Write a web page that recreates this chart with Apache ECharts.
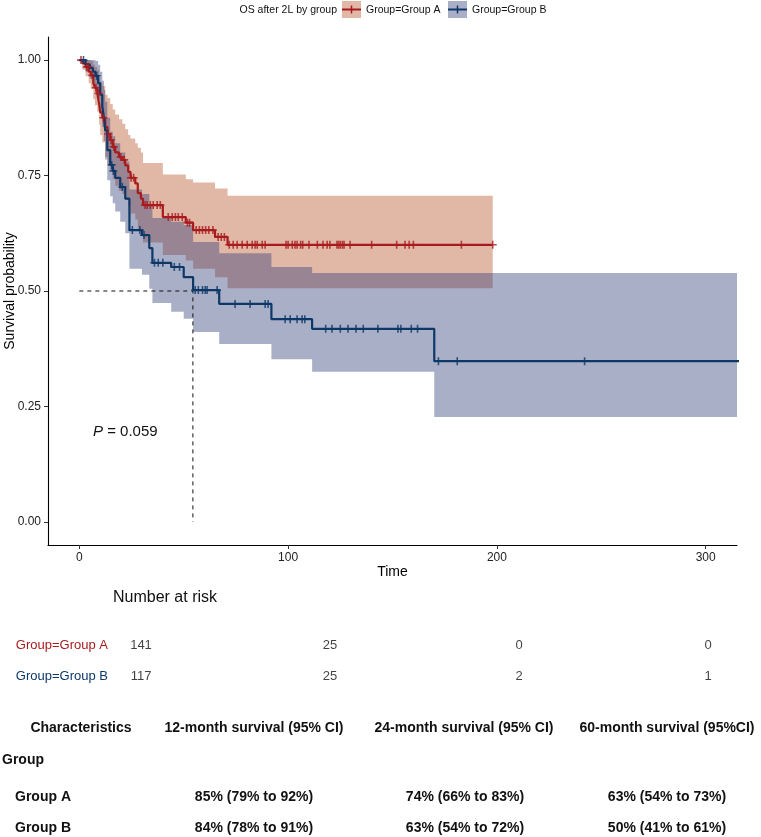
<!DOCTYPE html>
<html><head><meta charset="utf-8">
<script src="https://cdn.jsdelivr.net/npm/echarts@6/dist/echarts.min.js"></script>
<style>html,body{margin:0;padding:0;background:#fff}#c{width:761px;height:837px}</style>
</head><body><div id="c"></div>
<script>
// ---------- data ----------
const xTicks = [0, 100, 200, 300];
const yTicks = [0, 0.25, 0.5, 0.75, 1];
const groupNames = ['Group=Group A', 'Group=Group B'];

const aTime  = [0,1.5,3,4.5,5.5,6.7,7.5,8.6,9.5,10,11,12.4,13.5,14.8,16,17.2,19,20.6,22,23.4,24.5,26.8,28,29.5,30.5,40,51,54.5,65,71,198];
const aSurv  = [1,0.993,0.985,0.975,0.967,0.950,0.940,0.928,0.905,0.887,0.875,0.855,0.840,0.827,0.812,0.800,0.790,0.784,0.772,0.758,0.745,0.733,0.712,0.700,0.686,0.660,0.648,0.632,0.617,0.600,0.600];
const aUpper = [1,1,1,1,0.998,0.99,0.985,0.978,0.962,0.952,0.944,0.925,0.918,0.905,0.893,0.882,0.872,0.862,0.850,0.838,0.830,0.820,0.810,0.800,0.777,0.752,0.742,0.735,0.722,0.706,0.706];
const aLower = [1,0.979,0.965,0.95,0.938,0.915,0.902,0.888,0.86,0.838,0.822,0.79,0.774,0.76,0.742,0.728,0.717,0.71,0.697,0.683,0.668,0.655,0.633,0.62,0.605,0.578,0.566,0.548,0.53,0.506,0.506];
const aCensor = [0.8,3.5,4.3,6.2,7.9,9.2,11.5,13.8,15.2,16.5,19.8,21.5,24.8,26,31.5,32.5,34,35.4,37.3,38.8,42.6,44.5,46,47.4,49.3,51.8,52.8,56,57.5,59,60.5,62,64,66.5,68,69.5,71.8,73.7,75.6,78,80.4,82.8,84.2,85.2,87.6,89,99,100,102,103.3,104.3,106,107,110,114,116.7,118.7,120,123.4,124.2,125,126,126.8,129.7,140,152,156,158,160,183,198];

const bTime  = [0,3,5,6.5,7.7,9,10,11,11.8,12.4,13.4,14.8,16,17.2,19.6,22,24,30,33.5,35,44,50,54.5,67,92,111.5,170,330];
const bSurv  = [1,0.991,0.983,0.975,0.966,0.95,0.925,0.90,0.875,0.848,0.805,0.773,0.76,0.745,0.725,0.70,0.632,0.621,0.593,0.561,0.552,0.530,0.502,0.472,0.439,0.418,0.348,0.348];
const bUpper = [1,1,1,1,0.998,0.99,0.975,0.955,0.935,0.91,0.875,0.845,0.835,0.82,0.80,0.78,0.72,0.71,0.685,0.658,0.65,0.643,0.606,0.582,0.552,0.539,0.539,0.539];
const bLower = [1,0.975,0.96,0.948,0.935,0.915,0.885,0.855,0.825,0.785,0.74,0.705,0.69,0.672,0.65,0.625,0.548,0.535,0.505,0.474,0.455,0.44,0.411,0.385,0.352,0.325,0.227,0.227];
const bCensor = [2,8.3,15.5,16.3,20.6,25.4,29,31,36,37.8,40,45.5,48,55.5,57,59,60.3,61.2,66,74.6,81.8,89,90.4,98.6,101,104.3,106.7,108,118,121,125,128.7,132.5,136,143,152.6,154,159,162,172,181,242];

const medianTime = 54.4;
const medianSurv = 0.5;
const pValueText = '0.059';

const riskTimes = [0, 100, 200, 300];
const riskA = [141, 25, 0, 0];
const riskB = [117, 25, 2, 1];

const tableHeader = ['Characteristics', '12-month survival (95% CI)', '24-month survival (95% CI)', '60-month survival (95%CI)'];
const tableGroupLabel = 'Group';
const tableRowA = ['Group A', '85% (79% to 92%)', '74% (66% to 83%)', '63% (54% to 73%)'];
const tableRowB = ['Group B', '84% (78% to 91%)', '63% (54% to 72%)', '50% (41% to 61%)'];

// ---------- styles ----------
const FONT = '"Liberation Sans", Arial, Helvetica, sans-serif';
const RED = '#A71B1F', BLUE = '#0D3868';
const RED_BAND = 'rgba(180,75,30,0.4)', BLUE_BAND = 'rgba(42,55,117,0.4)';
const PLUS = 'path://M-1,-0.2L1,-0.2L1,0.2L-1,0.2Z M-0.2,-1L0.2,-1L0.2,1L-0.2,1Z';

function survAt(times, surv, t) {
  let v = surv[0];
  for (let i = 0; i < times.length; i++) { if (times[i] <= t) v = surv[i]; else break; }
  return v;
}
// confidence band drawn as one stepped polygon through the axis scales
function bandSeries(name, times, lower, upper, color) {
  return {
    type: 'custom', name: name, silent: true, z: 1, clip: true,
    data: times.map((t, i) => [t, lower[i], upper[i]]),
    encode: { x: 0, y: [1, 2] },
    renderItem: function (params, api) {
      if (params.dataIndexInside !== 0) return null;
      const n = params.dataInsideLength;
      const top = [], bot = [];
      for (let i = 0; i < n; i++) {
        const t = api.value(0, i), lo = api.value(1, i), up = api.value(2, i);
        const tNext = i < n - 1 ? api.value(0, i + 1) : t;
        top.push(api.coord([t, up]), api.coord([tNext, up]));
        bot.push(api.coord([t, lo]), api.coord([tNext, lo]));
      }
      const pts = top.concat(bot.reverse());
      return { type: 'polygon', shape: { points: pts }, style: { fill: color } };
    }
  };
}

const chart = echarts.init(document.getElementById('c'));
const option = {
  animation: false,
  textStyle: { fontFamily: FONT },
  grid: [
    { left: 48, right: 24, top: 37, bottom: 292, containLabel: false, outerBoundsMode: 'none' },
    { left: 141, right: 53, top: 630, height: 62, containLabel: false, outerBoundsMode: 'none' }
  ],
  xAxis: [
    { type: 'value', gridIndex: 0, min: -15, max: 315,
      axisLine: { show: true, onZero: false, lineStyle: { color: '#000', width: 1.1 } },
      axisTick: { show: true, length: 4, customValues: xTicks, lineStyle: { color: '#333' } },
      axisLabel: { customValues: xTicks, margin: 7, fontSize: 12, color: '#222', fontFamily: FONT },
      splitLine: { show: false },
      name: 'Time', nameLocation: 'middle', nameGap: 20, nameMoveOverlap: false,
      nameTextStyle: { fontSize: 14, color: '#000', fontFamily: FONT } },
    { type: 'value', gridIndex: 1, min: 0, max: 300, show: false }
  ],
  yAxis: [
    { type: 'value', gridIndex: 0, min: -0.05, max: 1.05,
      axisLine: { show: true, onZero: false, lineStyle: { color: '#000', width: 1.1 } },
      axisTick: { show: true, length: 4, customValues: yTicks, lineStyle: { color: '#333' } },
      axisLabel: { customValues: yTicks, margin: 7, fontSize: 12, color: '#222', fontFamily: FONT,
        formatter: v => v.toFixed(2) },
      splitLine: { show: false },
      name: 'Survival probability', nameLocation: 'middle', nameGap: 31, nameMoveOverlap: false,
      nameTextStyle: { fontSize: 14, color: '#000', fontFamily: FONT } },
    { type: 'category', gridIndex: 1, data: groupNames, inverse: true,
      axisLine: { show: false }, axisTick: { show: false }, splitLine: { show: false },
      axisLabel: { margin: 33, fontSize: 13, fontFamily: FONT,
        color: (v, i) => (v === groupNames[0] ? RED : BLUE) } }
  ],
  series: [
    bandSeries('bandA', aTime, aLower, aUpper, RED_BAND),
    bandSeries('bandB', bTime, bLower, bUpper, BLUE_BAND),
    { type: 'line', name: 'median', symbol: 'none', silent: true, z: 2,
      data: [[0, medianSurv], [medianTime, medianSurv], [medianTime, 0]],
      lineStyle: { color: '#111', width: 1, type: [4, 4] } },
    { type: 'line', name: groupNames[0], step: 'end', symbol: 'none', z: 3,
      data: aTime.map((t, i) => [t, aSurv[i]]), lineStyle: { color: RED, width: 2.2 } },
    { type: 'line', name: groupNames[1], step: 'end', symbol: 'none', z: 3,
      data: bTime.map((t, i) => [t, bSurv[i]]), lineStyle: { color: BLUE, width: 2.2 } },
    { type: 'scatter', name: 'censorA', symbol: PLUS, symbolSize: 8, z: 4, silent: true,
      data: aCensor.map(t => [t, survAt(aTime, aSurv, t)]), itemStyle: { color: RED } },
    { type: 'scatter', name: 'censorB', symbol: PLUS, symbolSize: 8, z: 4, silent: true,
      data: bCensor.map(t => [t, survAt(bTime, bSurv, t)]), itemStyle: { color: BLUE } },
    { type: 'scatter', name: 'risk', xAxisIndex: 1, yAxisIndex: 1, symbolSize: 1, silent: true,
      itemStyle: { color: 'rgba(0,0,0,0)' },
      data: riskTimes.map((t, j) => [t, 0, riskA[j]]).concat(riskTimes.map((t, j) => [t, 1, riskB[j]])),
      label: { show: true, position: 'inside', formatter: p => String(p.value[2]),
        fontSize: 13, color: '#111', fontFamily: FONT } }
  ],
  graphic: [
    // legend
    { type: 'text', x: 337, y: 10, style: { text: 'OS after 2L by group', fontSize: 10.5, fontFamily: FONT,
        fill: '#111', align: 'right', verticalAlign: 'middle' } },
    { type: 'rect', x: 342, y: 1, shape: { width: 19, height: 17 }, style: { fill: RED_BAND } },
    { type: 'line', shape: { x1: 342, y1: 9.5, x2: 361, y2: 9.5 }, style: { stroke: RED, lineWidth: 2 } },
    { type: 'line', shape: { x1: 351.5, y1: 5.5, x2: 351.5, y2: 13.5 }, style: { stroke: RED, lineWidth: 1.5 } },
    { type: 'text', x: 366, y: 10, style: { text: groupNames[0], fontSize: 10.5, fontFamily: FONT,
        fill: '#111', verticalAlign: 'middle' } },
    { type: 'rect', x: 448, y: 1, shape: { width: 19, height: 17 }, style: { fill: BLUE_BAND } },
    { type: 'line', shape: { x1: 448, y1: 9.5, x2: 467, y2: 9.5 }, style: { stroke: BLUE, lineWidth: 2 } },
    { type: 'line', shape: { x1: 457.5, y1: 5.5, x2: 457.5, y2: 13.5 }, style: { stroke: BLUE, lineWidth: 1.5 } },
    { type: 'text', x: 472, y: 10, style: { text: groupNames[1], fontSize: 10.5, fontFamily: FONT,
        fill: '#111', verticalAlign: 'middle' } },
    // p-value
    { type: 'text', x: 93, y: 432, style: { text: '{i|P} = ' + pValueText, fontSize: 15, fontFamily: FONT,
        fill: '#111', verticalAlign: 'middle',
        rich: { i: { fontStyle: 'italic', fontSize: 15, fontFamily: FONT, fill: '#111' } } } },
    // risk table title
    { type: 'text', x: 113, y: 598, style: { text: 'Number at risk', fontSize: 16, fontFamily: FONT,
        fill: '#111', verticalAlign: 'middle' } },
    // summary table
    { type: 'text', x: 81, y: 728, style: { text: tableHeader[0], font: 'bold 14px ' + FONT, fill: '#111', align: 'center', verticalAlign: 'middle' } },
    { type: 'text', x: 254, y: 728, style: { text: tableHeader[1], font: 'bold 14px ' + FONT, fill: '#111', align: 'center', verticalAlign: 'middle' } },
    { type: 'text', x: 464, y: 728, style: { text: tableHeader[2], font: 'bold 14px ' + FONT, fill: '#111', align: 'center', verticalAlign: 'middle' } },
    { type: 'text', x: 667, y: 728, style: { text: tableHeader[3], font: 'bold 14px ' + FONT, fill: '#111', align: 'center', verticalAlign: 'middle' } },
    { type: 'text', x: 2, y: 760, style: { text: tableGroupLabel, font: 'bold 14px ' + FONT, fill: '#111', verticalAlign: 'middle' } },
    { type: 'text', x: 15, y: 797, style: { text: tableRowA[0], font: 'bold 14px ' + FONT, fill: '#111', verticalAlign: 'middle' } },
    { type: 'text', x: 254, y: 797, style: { text: tableRowA[1], font: 'bold 14px ' + FONT, fill: '#111', align: 'center', verticalAlign: 'middle' } },
    { type: 'text', x: 465, y: 797, style: { text: tableRowA[2], font: 'bold 14px ' + FONT, fill: '#111', align: 'center', verticalAlign: 'middle' } },
    { type: 'text', x: 667, y: 797, style: { text: tableRowA[3], font: 'bold 14px ' + FONT, fill: '#111', align: 'center', verticalAlign: 'middle' } },
    { type: 'text', x: 15, y: 828, style: { text: tableRowB[0], font: 'bold 14px ' + FONT, fill: '#111', verticalAlign: 'middle' } },
    { type: 'text', x: 254, y: 828, style: { text: tableRowB[1], font: 'bold 14px ' + FONT, fill: '#111', align: 'center', verticalAlign: 'middle' } },
    { type: 'text', x: 465, y: 828, style: { text: tableRowB[2], font: 'bold 14px ' + FONT, fill: '#111', align: 'center', verticalAlign: 'middle' } },
    { type: 'text', x: 667, y: 828, style: { text: tableRowB[3], font: 'bold 14px ' + FONT, fill: '#111', align: 'center', verticalAlign: 'middle' } }
  ]
};
chart.setOption(option);
</script>
</body></html>
